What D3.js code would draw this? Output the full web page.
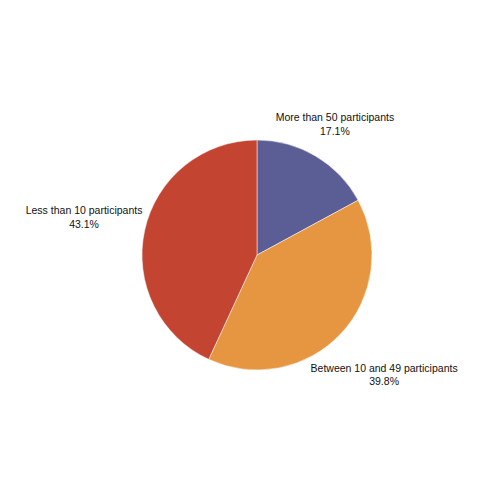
<!DOCTYPE html>
<html lang="en">
<head>
  <meta charset="UTF-8">
  <title>Participants pie</title>
  <style>
    body { margin: 0; background: #fff; }
  </style>
</head>
<body>
  <div id="chart"></div>
  <script src="https://d3js.org/d3.v7.min.js"></script>
  <script>
    // data
    const categories = ["More than 50 participants", "Between 10 and 49 participants", "Less than 10 participants"];
    const shares = [17.1, 39.8, 43.1];
    const colors = ["#5b5e94", "#e69640", "#c34431"];

    const width = 500,
      height = 500,
      cx = 257,
      cy = 255,
      radius = 115,
      labelGap = 5;

    const data = categories.map((c, i) => ({ name: c, value: shares[i], color: colors[i] }));

    const svg = d3.select("#chart")
      .append("svg")
      .attr("width", width)
      .attr("height", height);

    const g = svg.append("g")
      .attr("transform", `translate(${cx},${cy})`);

    const arcs = d3.pie().sort(null).value(d => d.value)(data);
    const arc = d3.arc().innerRadius(0).outerRadius(radius);

    g.append("g")
      .attr("stroke", "#ffffff")
      .attr("stroke-width", 0.5)
      .selectAll("path")
      .data(arcs)
      .join("path")
      .attr("fill", d => d.data.color)
      .attr("d", arc);

    const labels = g.append("g")
      .attr("font-family", "Liberation Sans, Arial, sans-serif")
      .attr("font-size", 10.5)
      .attr("fill", "#111")
      .attr("text-anchor", "middle")
      .selectAll("text")
      .data(arcs)
      .join("text");

    labels.selectAll("tspan")
      .data(d => [d.data.name, d.data.value.toFixed(1) + "%"])
      .join("tspan")
      .attr("x", 0)
      .attr("y", (d, i) => `${i * 1.3}em`)
      .text(d => d);

    // push each label out along its mid angle, treating its box as an ellipse
    labels.each(function(d) {
      const box = this.getBBox();
      const a = (d.startAngle + d.endAngle) / 2;
      const ux = Math.sin(a), uy = -Math.cos(a);
      const half = Math.hypot(ux * box.width / 2, uy * box.height / 2);
      const dist = radius + labelGap + half;
      const bx = box.x + box.width / 2, by = box.y + box.height / 2;
      d3.select(this).attr("transform", `translate(${ux * dist - bx},${uy * dist - by})`);
    });
  </script>
</body>
</html>
